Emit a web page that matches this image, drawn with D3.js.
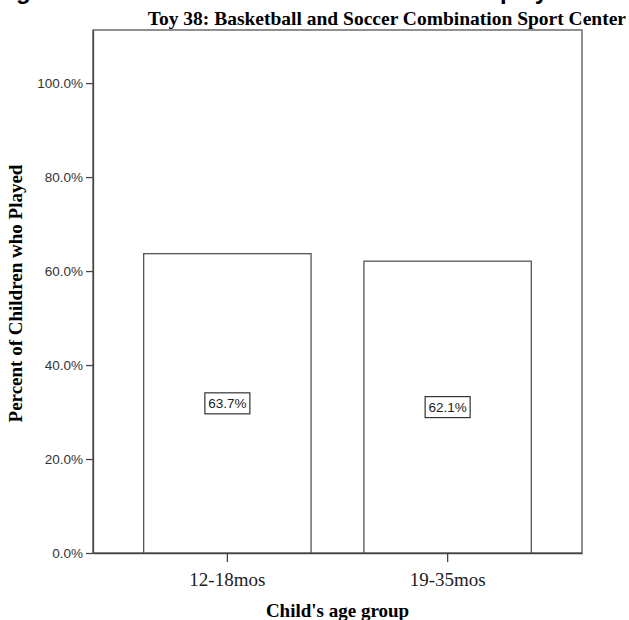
<!DOCTYPE html>
<html>
<head>
<meta charset="utf-8">
<script src="https://cdn.jsdelivr.net/npm/d3@7"></script>
<style>
  html, body { margin: 0; padding: 0; background: #fff; }
  svg { display: block; }
</style>
</head>
<body>
<svg id="chart" width="629" height="620"></svg>
<script>
// ---- data ----
const categories = ["12-18mos", "19-35mos"];
const values = [63.7, 62.1];
const yTickValues = [0, 20, 40, 60, 80, 100];
const yMax = 111.3;
const headingText = "Percentage of children who were observed to have played";
const subtitleText = "Toy 38: Basketball and Soccer Combination Sport Center";
const xTitle = "Child's age group";
const yTitle = "Percent of Children who Played";

// ---- layout ----
const W = 629, H = 620;
const plot = { left: 93, right: 582, top: 30, bottom: 553 };
const serif = "'Liberation Serif', 'Times New Roman', serif";
const sans = "'Liberation Sans', Arial, sans-serif";

const svg = d3.select("#chart");

const x = d3.scaleBand()
  .domain(categories)
  .range([plot.left, plot.right])
  .paddingInner(0.24)
  .paddingOuter(0.23);

const y = d3.scaleLinear()
  .domain([0, yMax])
  .range([plot.bottom, plot.top]);

// cropped heading from the page above the chart (only descenders visible)
const heading = svg.append("text")
  .attr("y", -1)
  .attr("font-family", sans)
  .attr("font-weight", "bold")
  .attr("font-size", 24)
  .attr("fill", "#000")
  .text(headingText);
const gIdx = headingText.indexOf("g");
let off = 0;
try { off = heading.node().getSubStringLength(0, gIdx); } catch (e) { off = 110; }
heading.attr("x", 16 - off);

// subtitle
svg.append("text")
  .attr("x", 626)
  .attr("y", 25)
  .attr("text-anchor", "end")
  .attr("font-family", serif)
  .attr("font-weight", "bold")
  .attr("font-size", 19.5)
  .attr("fill", "#000")
  .text(subtitleText);

// frame
svg.append("rect")
  .attr("x", plot.left)
  .attr("y", plot.top)
  .attr("width", plot.right - plot.left)
  .attr("height", plot.bottom - plot.top)
  .attr("fill", "none")
  .attr("stroke", "#555")
  .attr("stroke-width", 1.3);

// bars
svg.append("g").selectAll("rect")
  .data(categories)
  .join("rect")
  .attr("x", d => x(d))
  .attr("y", (d, i) => y(values[i]))
  .attr("width", x.bandwidth())
  .attr("height", (d, i) => y(0) - y(values[i]))
  .attr("fill", "#fff")
  .attr("stroke", "#555")
  .attr("stroke-width", 1.3);

// y axis
const yAxis = svg.append("g")
  .attr("transform", `translate(${plot.left},0)`)
  .call(d3.axisLeft(y).tickValues(yTickValues)
    .tickFormat(d => d.toFixed(1) + "%")
    .tickSizeInner(7).tickSizeOuter(0).tickPadding(3));
yAxis.select(".domain").attr("stroke", "#444").attr("stroke-width", 1.3);
yAxis.selectAll(".tick line").attr("stroke", "#444").attr("stroke-width", 1.3);
yAxis.selectAll(".tick text")
  .attr("font-family", sans)
  .attr("font-size", 13.5)
  .attr("fill", "#333");

// x axis
const xAxis = svg.append("g")
  .attr("transform", `translate(0,${plot.bottom})`)
  .call(d3.axisBottom(x).tickSizeInner(9).tickSizeOuter(0).tickPadding(3));
xAxis.select(".domain").attr("stroke", "#444").attr("stroke-width", 1.3);
xAxis.selectAll(".tick line").attr("stroke", "#444").attr("stroke-width", 1.3);
xAxis.selectAll(".tick text")
  .attr("dy", null)
  .attr("y", 586 - plot.bottom)
  .attr("font-family", serif)
  .attr("font-size", 19)
  .attr("fill", "#222");

// value labels
const lab = svg.append("g").selectAll("g")
  .data(categories)
  .join("g")
  .attr("transform", (d, i) => `translate(${x(d) + x.bandwidth() / 2},${y(values[i] / 2)})`);
lab.append("rect")
  .attr("x", -22.5).attr("y", -10.5)
  .attr("width", 45).attr("height", 21)
  .attr("fill", "#fff")
  .attr("stroke", "#333")
  .attr("stroke-width", 1.2);
lab.append("text")
  .attr("text-anchor", "middle")
  .attr("dy", "0.36em")
  .attr("font-family", sans)
  .attr("font-size", 13.5)
  .attr("fill", "#222")
  .text((d, i) => values[i].toFixed(1) + "%");

// axis titles
svg.append("text")
  .attr("x", (plot.left + plot.right) / 2)
  .attr("y", 617)
  .attr("text-anchor", "middle")
  .attr("font-family", serif)
  .attr("font-weight", "bold")
  .attr("font-size", 19)
  .attr("fill", "#000")
  .text(xTitle);

svg.append("text")
  .attr("transform", `translate(22,${(plot.top + plot.bottom) / 2 + 2}) rotate(-90)`)
  .attr("text-anchor", "middle")
  .attr("font-family", serif)
  .attr("font-weight", "bold")
  .attr("font-size", 19)
  .attr("fill", "#000")
  .text(yTitle);
</script>
</body>
</html>
